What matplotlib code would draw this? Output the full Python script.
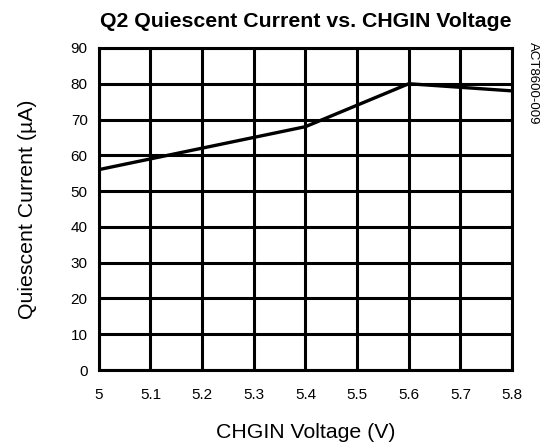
import matplotlib
matplotlib.use('Agg')
import matplotlib.pyplot as plt
import numpy as np

plt.rcParams['font.family'] = ['Liberation Sans', 'DejaVu Sans']

# Dados
voltage = [5.0, 5.1, 5.2, 5.3, 5.4, 5.5, 5.6, 5.7, 5.8]
current = [56, 59, 62, 65, 68, 74, 80, 79, 78]

x_ticks = [5, 5.1, 5.2, 5.3, 5.4, 5.5, 5.6, 5.7, 5.8]
x_tick_labels = ['5', '5.1', '5.2', '5.3', '5.4', '5.5', '5.6', '5.7', '5.8']
y_ticks = list(range(0, 100, 10))

fig = plt.figure(figsize=(5.43, 4.48), dpi=100)
ax = fig.add_axes([0.182, 0.174, 0.761, 0.719])

ax.plot(voltage, current, color='black', linewidth=2.4, zorder=3)

ax.set_xlim(5, 5.8)
ax.set_ylim(0, 90)
ax.set_xticks(x_ticks)
ax.set_xticklabels(x_tick_labels)
ax.set_yticks(y_ticks)
ax.grid(True, color='black', linewidth=2.2)
for s in ax.spines.values():
    s.set_linewidth(2.2)
ax.tick_params(length=0, labelsize=11)
ax.tick_params(axis='x', pad=13)
ax.tick_params(axis='y', pad=8)

ax.set_title('Q2 Quiescent Current vs. CHGIN Voltage', fontsize=15.3, fontweight='bold', pad=15)
ax.set_xlabel('CHGIN Voltage (V)', fontsize=15.3, labelpad=15)
ax.set_ylabel('Quiescent Current (µA)', fontsize=15.3, labelpad=24)

fig.text(0.981, 0.906, 'ACT8600-009', rotation=270, fontsize=9.5, ha='center', va='top')

fig.savefig('out.png', dpi=100)
